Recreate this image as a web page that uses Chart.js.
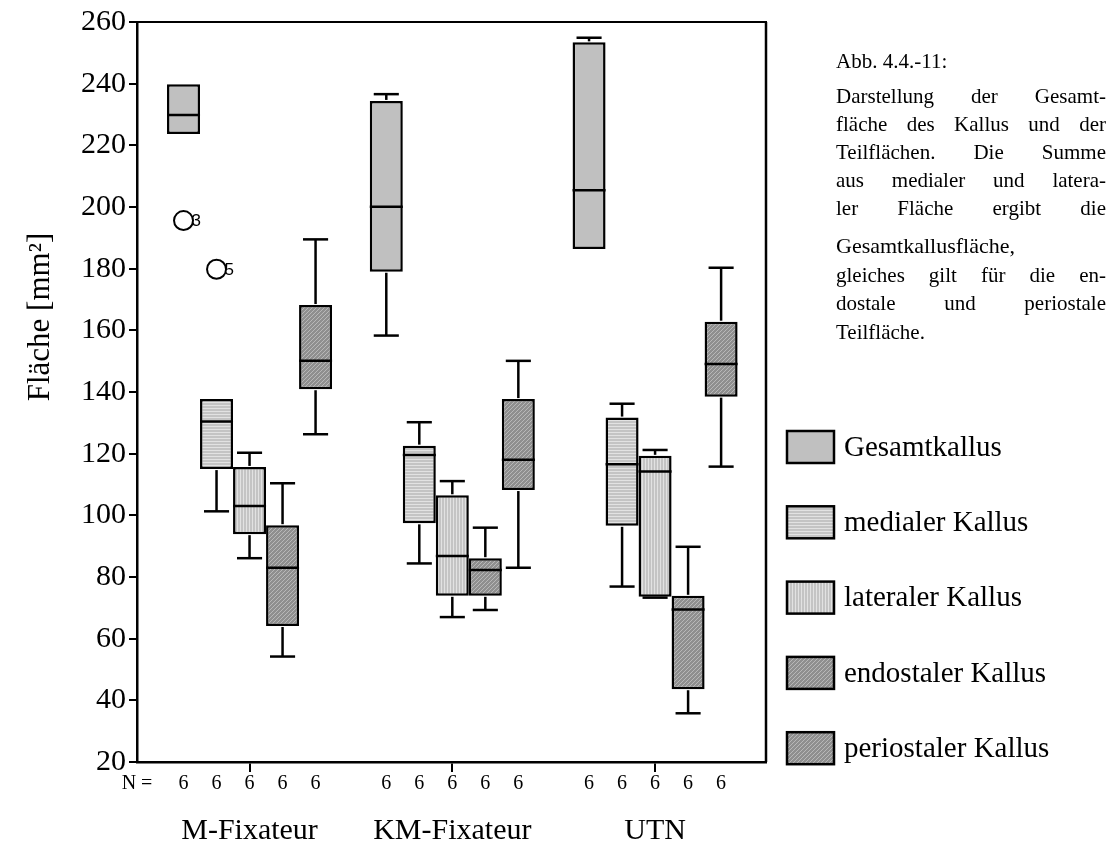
<!DOCTYPE html>
<html lang="de">
<head>
<meta charset="utf-8">
<title>Abb. 4.4.-11 Kallusflächen</title>
<script src="https://cdn.jsdelivr.net/npm/chart.js@4.4.1/dist/chart.umd.min.js"></script>
<style>
  html, body { margin: 0; padding: 0; background: #fff; overflow: hidden; }
  #wrap { width: 1119px; height: 843px; position: relative; }
</style>
</head>
<body>
<div id="wrap"><canvas id="kallus"></canvas></div>
<script>
// Gruppen und Teilflächen
const gruppen = ["M-Fixateur", "KM-Fixateur", "UTN"];
const teilflaechen = ["Gesamtkallus", "medialer Kallus", "lateraler Kallus", "endostaler Kallus", "periostaler Kallus"];

// Boxplot-Werte je Gruppe: [Minimum, Q1, Median, Q3, Maximum] in mm²
const gesamtkallus      = [[223.7, 223.7, 229.8, 239.8, 239.8], [158.3, 179.0, 200.1, 234.4, 236.6], [186.4, 186.4, 205.4, 253.4, 254.9]];
const medialerKallus    = [[101.3, 115.0, 130.4, 137.7, 137.7], [84.4, 97.4, 119.6, 122.6, 130.2], [76.9, 96.6, 116.6, 131.7, 136.2]];
const lateralerKallus   = [[86.1, 93.9, 103.0, 115.7, 120.3], [67.0, 73.9, 86.8, 106.5, 111.1], [73.3, 73.6, 114.2, 119.3, 121.2]];
const endostalerKallus  = [[54.2, 64.1, 83.0, 96.8, 110.4], [69.3, 73.9, 82.3, 86.1, 96.0], [35.8, 43.6, 69.5, 73.9, 89.8]];
const periostalerKallus = [[126.3, 140.9, 150.1, 168.2, 189.5], [83.0, 108.2, 118.0, 137.7, 150.1], [115.8, 138.5, 149.1, 162.8, 180.3]];

// Fallzahlen N je Box
const fallzahlen = [[6, 6, 6, 6, 6], [6, 6, 6, 6, 6], [6, 6, 6, 6, 6]];

// Ausreißer (Fallnummer neben dem Kreis)
const ausreisserGruppe = [0, 0];
const ausreisserSerie = [0, 1];
const ausreisserWert = [195.6, 179.8];
const ausreisserFall = ["3", "5"];

// Bildunterschrift rechts (true = Blocksatz)
const legendeText = [
  ["Abb. 4.4.-11:", false],
  ["Darstellung der Gesamt-", true],
  ["fläche des Kallus und der", true],
  ["Teilflächen. Die Summe", true],
  ["aus medialer und latera-", true],
  ["ler Fläche ergibt die", true],
  ["Gesamtkallusfläche,", false],
  ["gleiches gilt für die en-", true],
  ["dostale und periostale", true],
  ["Teilfläche.", false]
];

const SERIF = "'Liberation Serif', 'Times New Roman', serif";
Chart.defaults.font.family = SERIF;
Chart.defaults.color = "#000";

var canvas = document.getElementById("kallus");
var ctx = canvas.getContext("2d");

// Schraffuren wie im SPSS-Ausdruck
function muster(basis, linie, art, w, h) {
  var t = document.createElement("canvas");
  t.width = w; t.height = h;
  var g = t.getContext("2d");
  g.fillStyle = basis;
  g.fillRect(0, 0, w, h);
  g.fillStyle = linie;
  if (art === "h") g.fillRect(0, 0, w, 1);
  if (art === "v") g.fillRect(0, 0, 1, h);
  if (art === "d") {
    for (var i = 0; i < w; i++) g.fillRect(i, h - 1 - i, 1, 1);
  }
  return ctx.createPattern(t, "repeat");
}

var fuellungen = [
  "#c0c0c0",
  muster("#c4c4c4", "#e2e2e2", "h", 3, 3),
  muster("#c4c4c4", "#e2e2e2", "v", 3, 3),
  muster("#8f8f8f", "#b8b8b8", "d", 4, 4),
  muster("#8f8f8f", "#b8b8b8", "d", 4, 4)
];

var reihen = [gesamtkallus, medialerKallus, lateralerKallus, endostalerKallus, periostalerKallus];

function linie(c, x1, y1, x2, y2) {
  c.beginPath();
  c.moveTo(x1, y1);
  c.lineTo(x2, y2);
  c.stroke();
}

// Median, Whisker, Ausreißer und N-Zeile
var boxplotPlugin = {
  id: "boxplot",
  afterDatasetsDraw: function (chart) {
    var c = chart.ctx, y = chart.scales.y, area = chart.chartArea;
    c.save();
    c.strokeStyle = "#000";
    c.lineWidth = 2.5;
    chart.data.datasets.forEach(function (ds, s) {
      var meta = chart.getDatasetMeta(s);
      meta.data.forEach(function (bar, g) {
        var w = ds.boxWerte[g];
        var halb = bar.width / 2, kappe = bar.width * 0.38;
        var yMed = y.getPixelForValue(w[2]);
        linie(c, bar.x - halb, yMed, bar.x + halb, yMed);
        if (w[4] > w[3]) {
          var yMax = y.getPixelForValue(w[4]);
          linie(c, bar.x, y.getPixelForValue(w[3]) - 1, bar.x, yMax);
          linie(c, bar.x - kappe, yMax, bar.x + kappe, yMax);
        }
        if (w[0] < w[1]) {
          var yMin = y.getPixelForValue(w[0]);
          linie(c, bar.x, y.getPixelForValue(w[1]) + 1, bar.x, yMin);
          linie(c, bar.x - kappe, yMin, bar.x + kappe, yMin);
        }
        // N-Zeile unter der Achse
        c.fillStyle = "#000";
        c.font = "20px " + SERIF;
        c.textAlign = "center";
        c.textBaseline = "middle";
        c.fillText(String(fallzahlen[g][s]), bar.x, area.bottom + 22);
      });
    });
    c.fillText("N =", area.left, area.bottom + 22);

    // Ausreißer
    c.lineWidth = 2;
    ausreisserWert.forEach(function (v, i) {
      var bar = chart.getDatasetMeta(ausreisserSerie[i]).data[ausreisserGruppe[i]];
      var py = y.getPixelForValue(v);
      c.beginPath();
      c.arc(bar.x, py, 9.5, 0, Math.PI * 2);
      c.fillStyle = "#fff";
      c.fill();
      c.stroke();
      c.fillStyle = "#000";
      c.font = "17px 'Liberation Sans', Arial, sans-serif";
      c.textAlign = "left";
      c.fillText(ausreisserFall[i], bar.x + 8, py + 1);
    });
    c.restore();
  },
  afterDraw: function (chart) {
    var c = chart.ctx, area = chart.chartArea;
    c.save();
    // Rahmen oben und rechts
    c.strokeStyle = "#000";
    c.lineWidth = 2;
    linie(c, area.left, area.top, area.right + 1, area.top);
    c.lineWidth = 2.5;
    linie(c, area.right, area.top, area.right, area.bottom);

    // Achsentitel
    c.fillStyle = "#000";
    c.font = "31px " + SERIF;
    c.textAlign = "center";
    c.textBaseline = "middle";
    c.translate(41, 317);
    c.rotate(-Math.PI / 2);
    c.fillText("Fläche [mm²]", 0, 0);
    c.restore();

    // Legende
    c.save();
    chart.data.datasets.forEach(function (ds, s) {
      var cy = 447 + s * 75.3;
      c.fillStyle = ds.backgroundColor;
      c.fillRect(787, cy - 16, 47, 32);
      c.strokeStyle = "#000";
      c.lineWidth = 2.5;
      c.strokeRect(787, cy - 16, 47, 32);
      c.fillStyle = "#000";
      c.font = "29px " + SERIF;
      c.textAlign = "left";
      c.textBaseline = "middle";
      c.fillText(ds.label, 844, cy + 1);
    });

    // Bildunterschrift mit Blocksatz
    var links = 836, rechts = 1106;
    var basis = [68, 103, 131, 159, 187, 215, 253, 282, 310, 339];
    c.textBaseline = "alphabetic";
    c.textAlign = "left";
    legendeText.forEach(function (z, i) {
      c.font = (i === 6 ? "22px " : "21px ") + SERIF;
      if (!z[1]) {
        c.fillText(z[0], links, basis[i]);
        return;
      }
      var woerter = z[0].split(" ");
      var summe = 0;
      woerter.forEach(function (w) { summe += c.measureText(w).width; });
      var luecke = (rechts - links - summe) / (woerter.length - 1);
      var x = links;
      woerter.forEach(function (w) {
        c.fillText(w, x, basis[i]);
        x += c.measureText(w).width + luecke;
      });
    });
    c.restore();
  }
};

var chart = new Chart(ctx, {
  type: "bar",
  data: {
    datasets: reihen.map(function (r, s) {
      return {
        label: teilflaechen[s],
        data: r.map(function (w, g) { return { x: g, y: [w[1], w[3]] }; }),
        boxWerte: r,
        backgroundColor: fuellungen[s],
        borderColor: "#000",
        borderWidth: 2.5,
        borderSkipped: false
      };
    })
  },
  options: {
    responsive: true,
    maintainAspectRatio: false,
    animation: false,
    events: [],
    categoryPercentage: 0.814,
    barPercentage: 1.0,
    layout: { padding: { left: 0, top: 22, right: 353, bottom: 0 } },
    plugins: {
      legend: { display: false },
      tooltip: { enabled: false }
    },
    scales: {
      x: {
        type: "linear",
        min: -0.555,
        max: 2.547,
        offset: false,
        afterBuildTicks: function (axis) {
          axis.ticks = gruppen.map(function (_, i) { return { value: i }; });
        },
        afterFit: function (axis) { axis.height = 81; },
        ticks: {
          callback: function (v) { return gruppen[v]; },
          font: { size: 30 },
          color: "#000",
          padding: 41,
          maxRotation: 0,
          autoSkip: false
        },
        grid: { offset: false, drawOnChartArea: false, tickLength: 10, color: "#000", lineWidth: 2 },
        border: { color: "#000", width: 2.5 }
      },
      y: {
        min: 20,
        max: 260,
        ticks: { stepSize: 20, font: { size: 30 }, color: "#000", padding: 3 },
        afterFit: function (axis) { axis.width = 137; },
        grid: { drawOnChartArea: false, tickLength: 8, color: "#000", lineWidth: 2 },
        border: { color: "#000", width: 2.5 }
      }
    }
  },
  plugins: [boxplotPlugin]
});
</script>
</body>
</html>
